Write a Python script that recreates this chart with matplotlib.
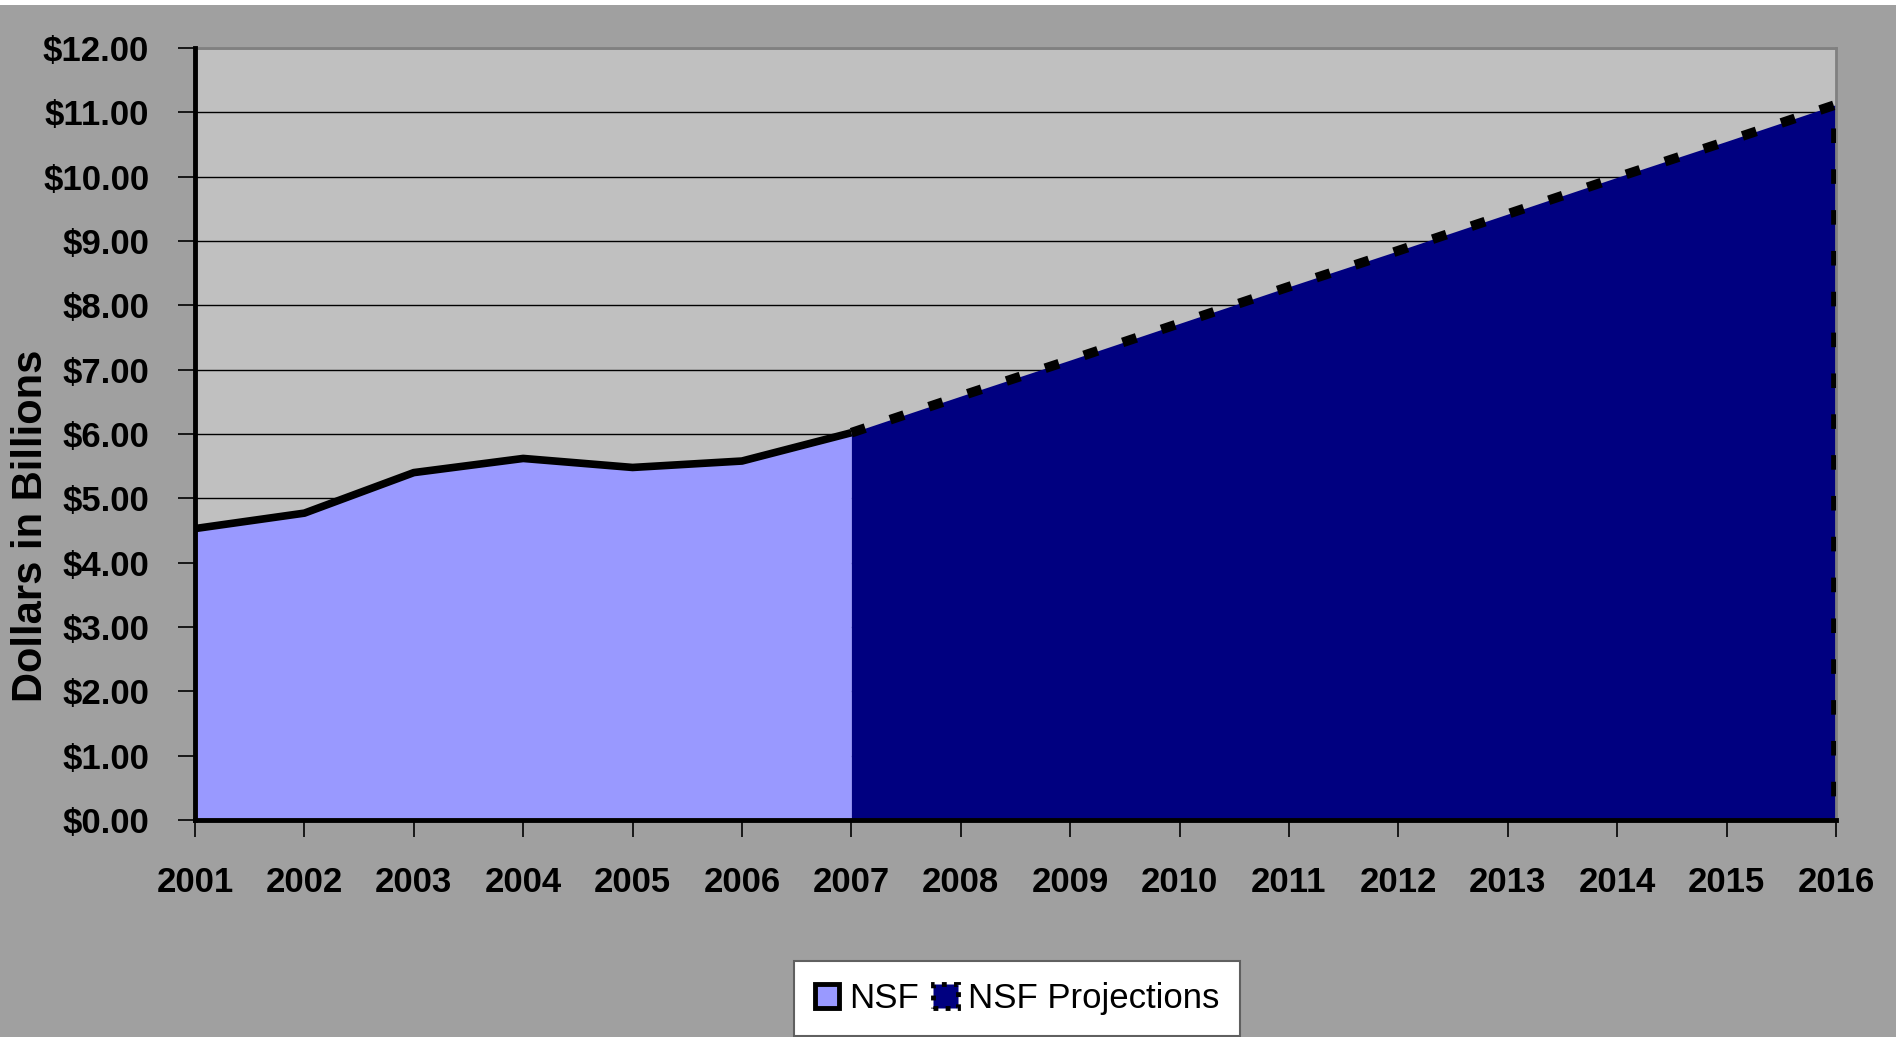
import numpy as np
import matplotlib
matplotlib.use('Agg')
import matplotlib.pyplot as plt
from matplotlib.patches import Patch, Rectangle

# data (billions of dollars)
nsf_years = [2001, 2002, 2003, 2004, 2005, 2006, 2007]
nsf_vals = [4.53, 4.77, 5.40, 5.62, 5.48, 5.58, 6.02]
proj_years = [2007, 2008, 2009, 2010, 2011, 2012, 2013, 2014, 2015, 2016]
proj_vals = [6.02, 6.59, 7.15, 7.72, 8.29, 8.85, 9.42, 9.99, 10.55, 11.12]
year_labels = [str(y) for y in range(2001, 2017)]
y_ticks = list(range(0, 13))

plt.rcParams['font.family'] = ['Liberation Sans', 'DejaVu Sans']

W, H = 1896, 1037
fig = plt.figure(figsize=(W / 100, H / 100), dpi=100)
fig.patch.set_facecolor('#a0a0a0')
# thin white strip along the top edge
fig.patches.append(Rectangle((0, 1 - 5 / H), 1, 5 / H, transform=fig.transFigure,
                             facecolor='white', edgecolor='none'))

ax = fig.add_axes([195 / W, 1 - 820 / H, (1836 - 195) / W, (820 - 48) / H])
ax.set_facecolor('#c0c0c0')

ax.fill_between(nsf_years, nsf_vals, 0, color='#9999ff', lw=0, zorder=2)
ax.fill_between(proj_years, proj_vals, 0, color='#000080', lw=0, zorder=2)

# area outlines
ax.plot(nsf_years, nsf_vals, color='black', lw=5.5, solid_capstyle='butt',
        solid_joinstyle='round', zorder=4)
ax.plot(proj_years + [proj_years[-1]], proj_vals + [0], color='black', lw=7,
        linestyle=(0, (1.5, 2.7)), dash_capstyle='butt', zorder=4)

ax.set_xlim(2001, 2016)
ax.set_ylim(0, 12)
ax.set_yticks(y_ticks)
ax.set_yticklabels(['${:.2f}'.format(v) for v in y_ticks])
ax.set_xticks(range(2001, 2017))
ax.set_xticklabels(year_labels)
ax.yaxis.grid(True, color='black', lw=1)
ax.set_axisbelow(True)

for lab in ax.get_xticklabels() + ax.get_yticklabels():
    lab.set_fontweight('bold')
    lab.set_fontsize(25)
ax.tick_params(axis='both', direction='out', length=12, width=1.2, color='black', pad=21)

for s in ['top', 'right']:
    ax.spines[s].set_color('#808080')
    ax.spines[s].set_linewidth(2)
for s in ['left', 'bottom']:
    ax.spines[s].set_color('black')
    ax.spines[s].set_linewidth(3.5)
    ax.spines[s].set_zorder(5)

fig.text(31 / W, 1 - 526 / H, 'Dollars in Billions', rotation=90, ha='center',
         va='center', fontsize=30, fontweight='bold')

handles = [Patch(facecolor='#9999ff', edgecolor='black', lw=3.5, label='NSF'),
           Patch(facecolor='#000080', edgecolor='black', lw=3.5, linestyle=(0, (1, 1.5)),
                 label='NSF Projections')]
leg = fig.legend(handles=handles, loc='upper left', bbox_to_anchor=(794 / W, 1 - 961 / H),
                 ncol=2, fontsize=25, frameon=True, fancybox=False, framealpha=1,
                 facecolor='white', edgecolor='#606060', handlelength=0.7,
                 handleheight=0.7, handletextpad=0.3, columnspacing=0.4,
                 borderpad=0.6, borderaxespad=0)
leg.get_frame().set_linewidth(1.5)

fig.savefig('out.png', dpi=100, facecolor=fig.get_facecolor())
